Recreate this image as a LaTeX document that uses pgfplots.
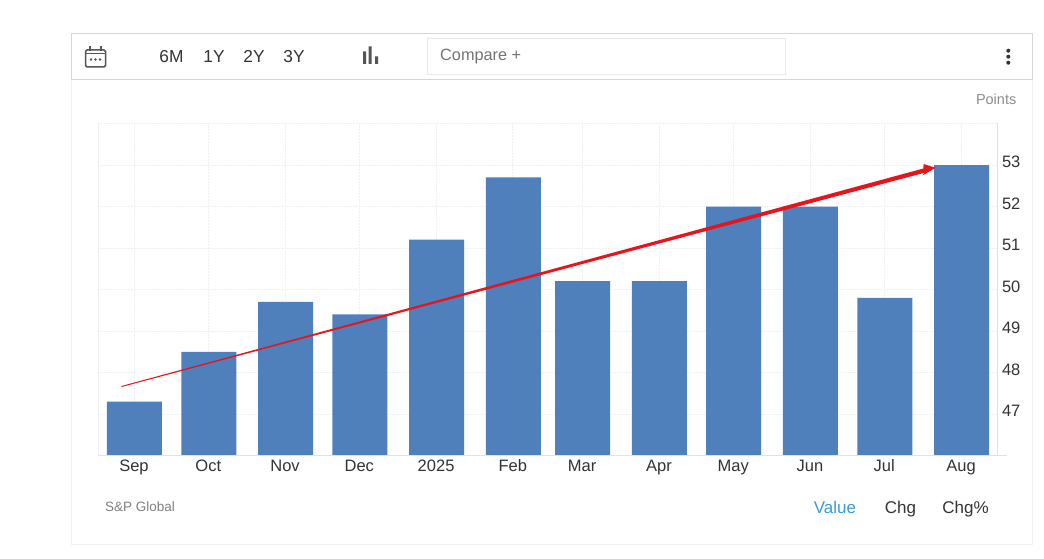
\documentclass[border=0pt]{standalone}
\usepackage{fontspec}
\setmainfont{Liberation Sans}
\usepackage{pgfplots}
\pgfplotsset{compat=1.18}

\definecolor{barblue}{HTML}{4F80BC}
\definecolor{arrowred}{HTML}{E8141C}
\definecolor{gridc}{HTML}{F0F0F0}
\definecolor{axisc}{HTML}{E2E2E2}
\definecolor{txt}{HTML}{333333}
\definecolor{panel}{HTML}{F1F1F1}
\definecolor{bar}{HTML}{D6D6D6}
\definecolor{icon}{HTML}{555555}
\definecolor{linkblue}{RGB}{60,153,216}

\newcommand{\px}[1]{\fontsize{#1}{#1}\selectfont}

\begin{document}
\begin{tikzpicture}[x=1pt,y=1pt]
% page, coordinates are pixels with y counted from the bottom
\path[use as bounding box,fill=white] (0,0) rectangle (1044,558);

% panel and toolbar
\draw[panel,line width=1pt] (71,14) rectangle (1032,524.5);
\draw[bar,line width=1pt] (71,478.5) rectangle (1032,524.5);
\fill[white] (72,479.5) rectangle (1031,524);
\draw[gridc!70!bar,line width=1pt] (427.5,483.5) rectangle (785.5,519.5);

% calendar icon
\draw[icon,line width=1.5pt,rounded corners=1.5pt] (85.5,491) rectangle (105.5,508);
\draw[icon,line width=1.3pt] (85.5,504.5) -- (105.5,504.5);
\draw[icon,line width=1.3pt] (90,507) -- (90,511.5) (101,507) -- (101,511.5);
\fill[icon] (91,498.5) circle (1.3) (95.5,498.5) circle (1.3) (100,498.5) circle (1.3);

% toolbar text
\node[anchor=base,text=txt] at (171.5,495) {\px{17.3}6M};
\node[anchor=base,text=txt] at (214,495) {\px{17.3}1Y};
\node[anchor=base,text=txt] at (254,495) {\px{17.3}2Y};
\node[anchor=base,text=txt] at (294,495) {\px{17.3}3Y};
\fill[icon] (363,494) rectangle (366,506.5) (368.5,494) rectangle (371.5,511.5) (375,494) rectangle (378,501.5);
\node[anchor=base west,inner sep=0pt,text=black!55] at (440,497) {\px{16.3}Compare +};
\fill[txt] (1008.3,507.3) circle (2) (1008.3,501.3) circle (2) (1008.3,495.3) circle (2);
\node[anchor=base east,inner sep=0pt,text=black!45] at (1016.5,453.5) {\px{14.5}Points};

\begin{axis}[
    at={(97.5pt,102.5pt)},
    anchor=south west,
    scale only axis,
    width=899pt,
    height=332pt,
    xmin=-14.74, xmax=348.33,
    ymin=46, ymax=54,
    axis line style={draw=none},
    tick style={draw=none},
    ybar,
    bar width=55pt,
    xtick={0,30,61,91,122,153,181,212,242,273,303,334},
    xticklabels={Sep,Oct,Nov,Dec,2025,Feb,Mar,Apr,May,Jun,Jul,Aug},
    ytick={46,47,48,49,50,51,52,53,54},
    yticklabels={,47,48,49,50,51,52,53,},
    ticklabel pos=right,
    xticklabel pos=bottom,
    grid=major,
    grid style={gridc,line width=0.8pt,dash pattern=on 2pt off 1pt},
    tick label style={text=txt,font=\px{16.5}},
    x tick label style={text height=12pt,text depth=3.5pt,yshift=4pt},
    y tick label style={yshift=3pt,xshift=2pt},
    /pgf/number format/assume math mode=true,
]
\addplot[fill=barblue,draw=none,bar shift=0.5pt] coordinates {
    (0,47.3) (30,48.5) (61,49.7) (91,49.4) (122,51.2) (153,52.7)
    (181,50.2) (212,50.2) (242,52) (273,52) (303,49.8) (334,53)
};
% hand drawn trend arrow, grows thicker towards the head
\addplot[fill=arrowred,draw=none,forget plot,sharp plot] coordinates {
    (-5.10,47.674) (318.82,52.916) (318.86,53.024) (323.71,52.933)
    (318.46,52.747) (319.27,52.814) (-5.00,47.651)
} -- cycle;
\end{axis}

% axis lines
\draw[gridc,line width=1pt] (98,103) -- (98,435);
\draw[axisc,line width=1pt] (997,103) -- (997,435);
\draw[axisc,line width=1pt] (98,103) -- (1007,103);

% footer
\node[anchor=base west,inner sep=0pt,text=black!50] at (105,47) {\px{13.5}S\&P Global};
\node[anchor=base,text=linkblue] at (835,45) {\px{17}Value};
\node[anchor=base,text=txt] at (900.5,45) {\px{17}Chg};
\node[anchor=base,text=txt] at (965.5,45) {\px{17}Chg\%};
\end{tikzpicture}
\end{document}
